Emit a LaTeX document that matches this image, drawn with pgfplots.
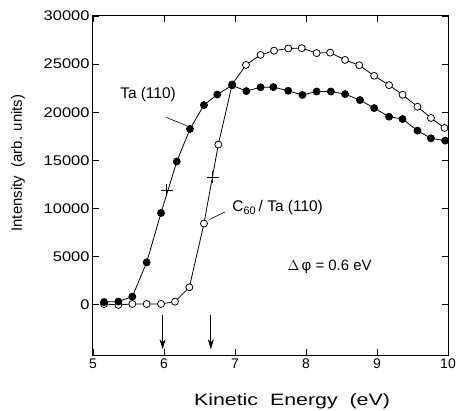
\documentclass[border=0pt]{standalone}
\usepackage{pgfplots}
\pgfplotsset{compat=1.18}
\usepackage{fontspec}
\setmainfont{Liberation Sans}
\newfontfamily\ytickfont[FakeStretch=1.18]{Liberation Sans}
\newfontfamily\xlabfont[FakeStretch=1.3]{Liberation Sans}
\usetikzlibrary{arrows.meta}
\begin{document}
\begin{tikzpicture}
\begin{axis}[
  scale only axis,
  width=355bp, height=339bp,
  xmin=5, xmax=10, ymin=-5200, ymax=30000,
  xtick={5,6,7,8,9,10},
  ytick={0,5000,10000,15000,20000,25000,30000},
  scaled ticks=false,
  /pgf/number format/1000 sep={},
  /pgf/number format/assume math mode=true,
  tick align=inside,
  major tick length=6bp,
  axis line style={line width=1bp},
  every tick/.style={line width=0.9bp, black},
  x tick label style={font=\fontsize{14}{14}\selectfont},
  y tick label style={font=\ytickfont\fontsize{14}{14}\selectfont},
  xlabel={Kinetic~ Energy~ (eV)},
  ylabel={Intensity\ \ (arb. units)},
  every axis x label/.style={at={(axis description cs:0.5606,-0.1475)}, anchor=base, font=\xlabfont\fontsize{16.5}{16.5}\selectfont},
  every axis y label/.style={at={(axis description cs:-0.2113,0.566)}, anchor=center, rotate=90, font=\fontsize{15}{15}\selectfont},
  clip=false,
]
% C60 / Ta(110): open circles
\addplot[black, line width=0.8bp, mark=*, mark size=3.5bp, mark options={fill=white, line width=0.8bp}] coordinates {
(5.155,100) (5.357,0) (5.554,100) (5.756,100) (5.958,100) (6.155,340) (6.357,1830)
(6.563,8450) (6.765,16650) (6.96,22900) (7.155,24920) (7.36,25960) (7.55,26400)
(7.75,26630) (7.94,26660) (8.15,26150) (8.34,26200) (8.55,25440) (8.75,24890)
(8.96,23790) (9.17,22820) (9.36,21820) (9.57,20580) (9.76,19410) (9.95,18380)
};
% Ta(110): filled circles
\addplot[black, line width=0.8bp, mark=*, mark size=3.5bp, mark options={fill=black}] coordinates {
(5.155,300) (5.357,350) (5.554,860) (5.756,4420) (5.958,9545) (6.18,14890)
(6.366,18270) (6.563,20750) (6.75,21850) (6.96,22800) (7.16,22200) (7.36,22600)
(7.54,22620) (7.75,22235) (7.95,21800) (8.15,22160) (8.35,22160) (8.55,21890)
(8.76,21270) (8.96,20440) (9.17,19545) (9.36,19300) (9.57,18100) (9.76,17300) (9.96,17060)
};
% crosses
\addplot[only marks, mark=+, mark size=6bp, mark options={line width=0.9bp}] coordinates {
(6.04,11890) (6.686,13270)
};
% labels and leaders
\node[font=\fontsize{15.5}{15.5}\selectfont] at (axis cs:5.775,21820) {Ta (110)};
\draw[line width=0.6bp] (axis cs:6.032,19470) -- (axis cs:6.32,18610);
\node[anchor=base west, font=\fontsize{15.5}{15.5}\selectfont] at (axis cs:6.915,9670) {C\textsubscript{60}\,/ Ta (110)};
\draw[line width=0.6bp] (axis cs:6.638,8860) -- (axis cs:6.859,9650);
\node[anchor=base west, font=\fontsize{15}{15}\selectfont] at (axis cs:7.69,3550) {$\Delta$\,φ = 0.6 eV};
% arrows
\draw[line width=0.9bp, -{Stealth[length=10bp, width=6bp, inset=3bp]}] (axis cs:5.98,-1030) -- (axis cs:5.98,-4600);
\draw[line width=0.9bp, -{Stealth[length=10bp, width=6bp, inset=3bp]}] (axis cs:6.66,-1030) -- (axis cs:6.66,-4600);
\end{axis}
\pgfresetboundingbox
\useasboundingbox ([shift={(-93bp,-56bp)}]current axis.south west) rectangle ([shift={(9bp,16bp)}]current axis.north east);
\end{tikzpicture}
\end{document}
